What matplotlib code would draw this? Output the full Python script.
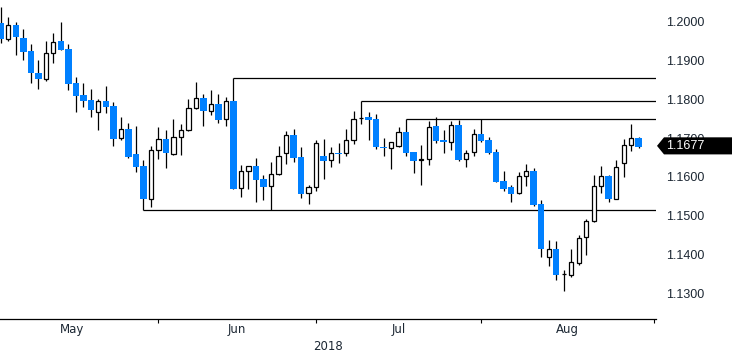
import numpy as np
import pandas as pd
import matplotlib
matplotlib.use('Agg')
import matplotlib.pyplot as plt
import matplotlib.transforms as mtransforms
from matplotlib.patches import Polygon

# daily EUR/USD candles, 2 May - 29 Aug 2018
dates = pd.bdate_range('2018-05-02', '2018-08-29')
opens = [1.1997, 1.1955, 1.1991, 1.1958, 1.1924, 1.1868, 1.1853, 1.1919, 1.1950, 1.1930,
         1.1842, 1.1811, 1.1798, 1.1767, 1.1796, 1.1783, 1.1700, 1.1723, 1.1659, 1.1628,
         1.1544, 1.1669, 1.1698, 1.1658, 1.1702, 1.1720, 1.1777, 1.1803, 1.1769, 1.1788,
         1.1748, 1.1796, 1.1571, 1.1614, 1.1627, 1.1595, 1.1576, 1.1607, 1.1661, 1.1707,
         1.1651, 1.1558, 1.1573, 1.1654, 1.1643, 1.1662, 1.1661, 1.1694, 1.1751, 1.1754,
         1.1748, 1.1677, 1.1675, 1.1679, 1.1715, 1.1664, 1.1643, 1.1645, 1.1731, 1.1695,
         1.1689, 1.1735, 1.1645, 1.1663, 1.1711, 1.1695, 1.1664, 1.1590, 1.1574, 1.1558,
         1.1602, 1.1615, 1.1530, 1.1393, 1.1413, 1.1349, 1.1348, 1.1379, 1.1444, 1.1486,
         1.1576, 1.1602, 1.1544, 1.1635, 1.1681, 1.1700]
highs = [1.2037, 1.2013, 1.1999, 1.1981, 1.1943, 1.1901, 1.1950, 1.1971, 1.1999, 1.1943,
         1.1858, 1.1842, 1.1827, 1.1802, 1.1834, 1.1793, 1.1754, 1.1739, 1.1731, 1.1644,
         1.1680, 1.1729, 1.1721, 1.1748, 1.1736, 1.1801, 1.1845, 1.1814, 1.1824, 1.1814,
         1.1806, 1.1855, 1.1631, 1.1628, 1.1649, 1.1605, 1.1638, 1.1680, 1.1718, 1.1723,
         1.1676, 1.1580, 1.1695, 1.1698, 1.1677, 1.1687, 1.1723, 1.1770, 1.1795, 1.1767,
         1.1762, 1.1700, 1.1690, 1.1729, 1.1748, 1.1665, 1.1681, 1.1743, 1.1754, 1.1721,
         1.1744, 1.1747, 1.1669, 1.1723, 1.1748, 1.1704, 1.1671, 1.1615, 1.1579, 1.1613,
         1.1633, 1.1622, 1.1541, 1.1437, 1.1434, 1.1360, 1.1414, 1.1450, 1.1491, 1.1604,
         1.1628, 1.1604, 1.1643, 1.1698, 1.1736, 1.1702]
lows = [1.1944, 1.1951, 1.1915, 1.1901, 1.1843, 1.1827, 1.1848, 1.1894, 1.1926, 1.1825,
        1.1768, 1.1781, 1.1755, 1.1722, 1.1764, 1.1680, 1.1696, 1.1650, 1.1613, 1.1515,
        1.1522, 1.1647, 1.1622, 1.1656, 1.1657, 1.1718, 1.1775, 1.1732, 1.1760, 1.1740,
        1.1732, 1.1568, 1.1549, 1.1570, 1.1536, 1.1541, 1.1515, 1.1605, 1.1634, 1.1639,
        1.1546, 1.1531, 1.1563, 1.1595, 1.1626, 1.1637, 1.1655, 1.1686, 1.1737, 1.1695,
        1.1671, 1.1655, 1.1620, 1.1678, 1.1655, 1.1609, 1.1580, 1.1631, 1.1687, 1.1661,
        1.1669, 1.1642, 1.1626, 1.1653, 1.1689, 1.1660, 1.1586, 1.1564, 1.1536, 1.1556,
        1.1577, 1.1526, 1.1394, 1.1371, 1.1335, 1.1307, 1.1343, 1.1374, 1.1400, 1.1484,
        1.1559, 1.1536, 1.1542, 1.1601, 1.1668, 1.1675]
closes = [1.1955, 1.1991, 1.1961, 1.1923, 1.1867, 1.1853, 1.1919, 1.1947, 1.1928, 1.1840,
          1.1809, 1.1796, 1.1773, 1.1795, 1.1781, 1.1698, 1.1723, 1.1652, 1.1626, 1.1544,
          1.1669, 1.1697, 1.1662, 1.1702, 1.1720, 1.1777, 1.1803, 1.1771, 1.1787, 1.1747,
          1.1795, 1.1570, 1.1614, 1.1627, 1.1593, 1.1575, 1.1607, 1.1653, 1.1707, 1.1650,
          1.1557, 1.1573, 1.1687, 1.1642, 1.1661, 1.1660, 1.1694, 1.1748, 1.1752, 1.1747,
          1.1676, 1.1675, 1.1689, 1.1715, 1.1662, 1.1642, 1.1645, 1.1728, 1.1693, 1.1689,
          1.1734, 1.1644, 1.1662, 1.1711, 1.1693, 1.1662, 1.1588, 1.1569, 1.1557, 1.1602,
          1.1615, 1.1528, 1.1415, 1.1413, 1.1348, 1.1350, 1.1380, 1.1443, 1.1486, 1.1576,
          1.1602, 1.1544, 1.1625, 1.1682, 1.1700, 1.1677]

# horizontal levels, drawn from a candle to the right edge
line_start = ['2018-06-14', '2018-07-09', '2018-07-17', '2018-05-29']
line_level = [1.1855, 1.1795, 1.1748, 1.1515]

last_price = 1.1677
month_names = ['May', 'Jun', 'Jul', 'Aug']
year_label = '2018'

blue = '#0080ff'
txt = '#1c2733'

o = np.array(opens); h = np.array(highs); l = np.array(lows); c = np.array(closes)
x = np.arange(len(dates))
up = c >= o

fig = plt.figure(figsize=(7.32, 3.54), dpi=100)
ax = fig.add_axes([0, 35 / 354, 656 / 732, 1 - 35 / 354])

ax.vlines(x, l, h, color='black', lw=0.9, zorder=1)
ax.bar(x[~up], (c - o)[~up], bottom=o[~up], width=0.88, color=blue, lw=0, zorder=2)
ax.bar(x[up], (c - o)[up], bottom=o[up], width=0.56, facecolor='white',
       edgecolor='black', lw=0.9, zorder=2)

xmin, xmax = -0.11, 87.3
for d, lev in zip(line_start, line_level):
    ax.hlines(lev, dates.get_loc(pd.Timestamp(d)), xmax, color='black', lw=0.9, zorder=0)

ax.set_xlim(xmin, xmax)
ax.set_ylim(1.12338, 1.20559)

# month end ticks and centred month names
all_days = pd.bdate_range('2018-04-30', '2018-08-31')
off = all_days.get_loc(dates[0])
s = pd.Series(np.arange(len(all_days)) - off, index=all_days)
ends = s.groupby(all_days.to_period('M')).max().values
ax.set_xticks(ends[1:])
ax.set_xticklabels([])
ax.set_xticks((ends[:-1] + ends[1:]) / 2, minor=True)
ax.set_xticklabels(month_names, minor=True, fontsize=8.5, color=txt)
ax.tick_params(axis='x', which='major', length=3, width=0.8, direction='out')
ax.tick_params(axis='x', which='minor', length=0, pad=3)
ax.set_xlabel(year_label, fontsize=8.5, color=txt, labelpad=3)

ax.yaxis.tick_right()
ax.set_yticks(np.arange(1.13, 1.2001, 0.01))
ax.set_yticklabels(['%.4f' % v for v in np.arange(1.13, 1.2001, 0.01)],
                   fontsize=9, color=txt, family='Liberation Sans')
ax.tick_params(axis='y', length=0, pad=7)

for sp in ['top', 'right', 'left']:
    ax.spines[sp].set_visible(False)
ax.spines['bottom'].set_linewidth(0.9)

# last price tag
tr = mtransforms.blended_transform_factory(fig.transFigure, ax.transData)
hh = 0.0022
yc = last_price + 0.0003
tag = Polygon([(657 / 732, yc), (664 / 732, yc + hh), (1.0, yc + hh),
               (1.0, yc - hh), (664 / 732, yc - hh)], closed=True,
              transform=tr, facecolor='black', edgecolor='none', clip_on=False, zorder=5)
ax.add_patch(tag)
ax.text(666 / 732, yc, '%.4f' % last_price, transform=tr, color='white', fontsize=9,
        family='Liberation Sans', va='center', ha='left', zorder=6, clip_on=False)

fig.savefig('out.png', dpi=100)
